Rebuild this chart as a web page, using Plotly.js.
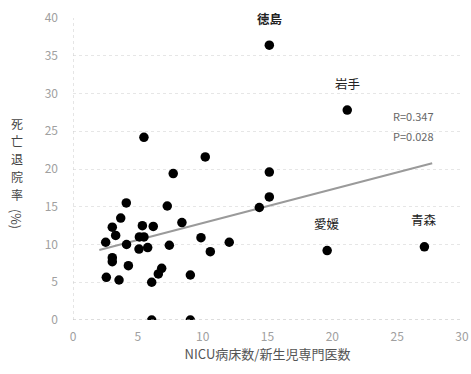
<!DOCTYPE html>
<html>
<head>
<meta charset="utf-8">
<script src="https://cdn.plot.ly/plotly-3.0.1.min.js"></script>
<style>html,body{margin:0;padding:0;background:#fff;}#chart{width:471px;height:374px;}</style>
</head>
<body>
<div id="chart"></div>
<script>
// NICU beds per neonatologist (x) vs. mortality-discharge rate % (y)
const bedsPerDoctor = [5.47,10.2,7.73,4.11,7.27,3.68,8.4,3.03,5.35,6.19,3.29,5.12,5.47,2.52,4.13,7.43,9.87,12.05,5.09,5.76,10.59,3.03,3.03,4.27,6.84,6.58,9.05,2.57,3.55,6.07,6.07,9.05,15.14,14.37,19.6,27.1,15.14,21.15,15.14];
const mortalityRate = [24.2,21.6,19.4,15.5,15.1,13.5,12.9,12.3,12.5,12.4,11.2,11.0,11.0,10.3,10.0,9.9,10.9,10.3,9.4,9.6,9.05,8.25,7.73,7.2,6.85,6.1,5.96,5.65,5.3,5.0,0,0,16.3,14.9,9.2,9.7,36.4,27.8,19.6];
const trendX = [2.03, 27.7];
const trendY = [9.27, 20.75];
const labelNames = ["徳島","岩手","愛媛","青森"];
const labelX = [15.14, 21.15, 19.6, 27.1];
const labelY = [36.4, 27.8, 9.2, 9.7];
const statText = ["R=0.347","P=0.028"];
const xTicks = [0,5,10,15,20,25,30];
const yTicks = [0,5,10,15,20,25,30,35,40];
const yTitleChars = ["死","亡","退","院","率"];
const yTitleUnit = "(%)";

const font = "Noto Sans CJK JP, Noto Sans, sans-serif";

const traces = [
  {x: trendX, y: trendY, mode: "lines", line: {color: "#9a9a9a", width: 2}, hoverinfo: "skip"},
  {x: bedsPerDoctor, y: mortalityRate, mode: "markers", marker: {color: "#000", size: 9.5}}
];

const annotations = [];
labelNames.forEach((n, i) => {
  annotations.push({x: labelX[i], y: labelY[i], xref: "x", yref: "y", text: i === 0 ? "<b>" + n + "</b>" : n,
    showarrow: false, yshift: 27, font: {family: font, size: 12.5, color: "#222"}});
});
statText.forEach((t, i) => {
  annotations.push({x: 0.875, y: 1 - (98 + i * 20) / 302, xref: "paper", yref: "paper", text: t, showarrow: false,
    xanchor: "center", yanchor: "middle", font: {family: font, size: 11, color: "#666"}});
});
yTitleChars.forEach((c, i) => {
  annotations.push({x: -56 / 389, y: 1 - (105 + i * 17.8) / 302, xref: "paper", yref: "paper", text: c,
    showarrow: false, xanchor: "center", yanchor: "middle", font: {family: font, size: 12, color: "#444"}});
});
annotations.push({x: -56 / 389, y: 1 - 201 / 302, xref: "paper", yref: "paper", text: yTitleUnit, showarrow: false,
  textangle: 90, xanchor: "center", yanchor: "middle", font: {family: font, size: 12.5, color: "#444"}});

const layout = {
  width: 471, height: 374,
  margin: {l: 73, r: 9, t: 18, b: 54},
  paper_bgcolor: "#fff", plot_bgcolor: "#fff",
  showlegend: false,
  xaxis: {range: [0, 30], tickvals: xTicks, showgrid: false, zeroline: false, showline: false,
    ticks: "", ticklabelstandoff: 8, tickfont: {family: font, size: 12, color: "#a0a0a0"},
    title: {text: "NICU病床数/新生児専門医数", font: {family: font, size: 13, color: "#555"}, standoff: 6}},
  yaxis: {range: [0, 40], tickvals: yTicks, showgrid: true, gridcolor: "#e6e6e6", griddash: "dot", gridwidth: 1,
    zeroline: false, showline: false,
    ticks: "", ticklabelstandoff: 14, tickfont: {family: font, size: 12, color: "#a0a0a0"}},
  shapes: [
    {type: "line", xref: "x", yref: "paper", x0: 0, x1: 0, y0: 0, y1: 1, line: {color: "#ccc", width: 1, dash: "dot"}},
    {type: "line", xref: "paper", yref: "y", x0: 0, x1: 1, y0: 0, y1: 0, line: {color: "#bbb", width: 1, dash: "dot"}}
  ],
  annotations: annotations
};

Plotly.newPlot("chart", traces, layout, {displayModeBar: false, staticPlot: true});
</script>
</body>
</html>
